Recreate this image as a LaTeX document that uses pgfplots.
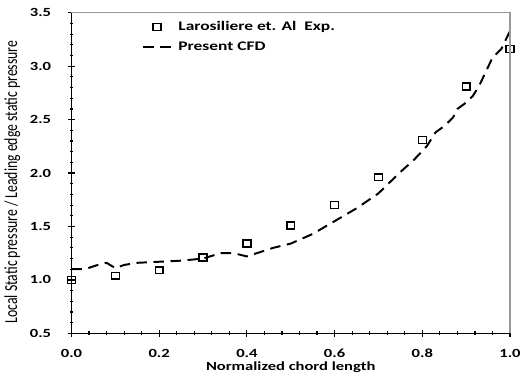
\documentclass[border=0pt]{standalone}
\usepackage{fontspec}
\setmainfont{Carlito}
\usepackage{pgfplots}
\pgfplotsset{compat=1.18}
\newcommand{\wide}[1]{\scalebox{1.33}[1]{#1}}
\pgfplotsset{
  legmark/.style={legend image code/.code={\draw[mark repeat=2,mark phase=2,##1] plot coordinates {(0cm,0cm) (10.5pt,0cm) (21pt,0cm)};}},
  legline/.style={legend image code/.code={\draw[##1] (0cm,0cm) -- (21pt,0cm);}},
}
\begin{document}
\begin{tikzpicture}
\begin{axis}[
  scale only axis,
  width=334.5pt, height=244.5pt,
  xmin=0, xmax=1, ymin=0.5, ymax=3.5,
  xtick={0,0.2,...,1.0}, ytick={0.5,1.0,...,3.5},
  xticklabels={\wide{0.0},\wide{0.2},\wide{0.4},\wide{0.6},\wide{0.8},\wide{1.0}},
  yticklabels={\wide{0.5},\wide{1.0},\wide{1.5},\wide{2.0},\wide{2.5},\wide{3.0},\wide{3.5}},
  minor x tick num=4, minor y tick num=4,
  axis x line*=bottom, axis y line*=left,
  axis line style={black, line width=1pt, -},
  tick align=center,
  major tick length=5pt, minor tick length=3pt,
  every tick/.style={black, line width=0.9pt},
  ticklabel style={font=\bfseries\fontsize{9.5}{10}\selectfont},
  xticklabel style={yshift=-6pt},
  yticklabel style={xshift=-9.5pt},
  xlabel={\wide{\bfseries Normalized chord length}},
  ylabel={\scalebox{1}[1.33]{Local Static pressure / Leading edge static pressure}},
  xlabel style={font=\fontsize{9.5}{10}\selectfont, yshift=3.5pt},
  ylabel style={font=\fontsize{10.5}{11}\selectfont, at={(ticklabel cs:0.472)}, yshift=0.5pt},
  legend style={draw=none, fill=none, at={(0.152,0.99)}, anchor=north west,
    font=\bfseries\fontsize{10}{11}\selectfont, row sep=3pt,
    nodes={inner xsep=5pt}},
  legend cell align=left,
  clip=false,
]
\addplot[only marks, mark=square, mark size=2.6pt, mark options={line width=1.1pt, black, xscale=1.15}, legmark] coordinates {
(0.0,1.00) (0.1,1.04) (0.2,1.09) (0.3,1.21) (0.4,1.34) (0.5,1.51)
(0.6,1.70) (0.7,1.96) (0.8,2.31) (0.9,2.81) (1.0,3.16)
};
\addlegendentry{\wide{Larosiliere et. Al\ \ Exp.}}
\addplot[black, line width=1.5pt, dash pattern=on 8pt off 5pt, legline] coordinates {
(0.0,1.10) (0.03,1.10) (0.06,1.14) (0.08,1.16) (0.1,1.11) (0.12,1.14)
(0.15,1.16) (0.2,1.17) (0.25,1.18) (0.3,1.20) (0.34,1.25) (0.37,1.25)
(0.4,1.22) (0.43,1.26) (0.46,1.30) (0.5,1.34) (0.55,1.43) (0.6,1.55)
(0.65,1.67) (0.7,1.81) (0.75,2.01) (0.78,2.12) (0.81,2.25) (0.83,2.38)
(0.85,2.44) (0.87,2.52) (0.88,2.60) (0.9,2.66) (0.915,2.72) (0.93,2.82)
(0.945,2.95) (0.96,3.08) (0.98,3.16) (1.0,3.33)
};
\addlegendentry{\wide{Present CFD}}
\end{axis}
\draw[gray!80, line width=1pt] (current axis.south east) -- (current axis.north east) -- (current axis.north west);
\path (current axis.south west) ++(-51.75pt,-33pt);
\path (current axis.north east) ++(7.5pt,9.75pt);
\end{tikzpicture}
\end{document}
